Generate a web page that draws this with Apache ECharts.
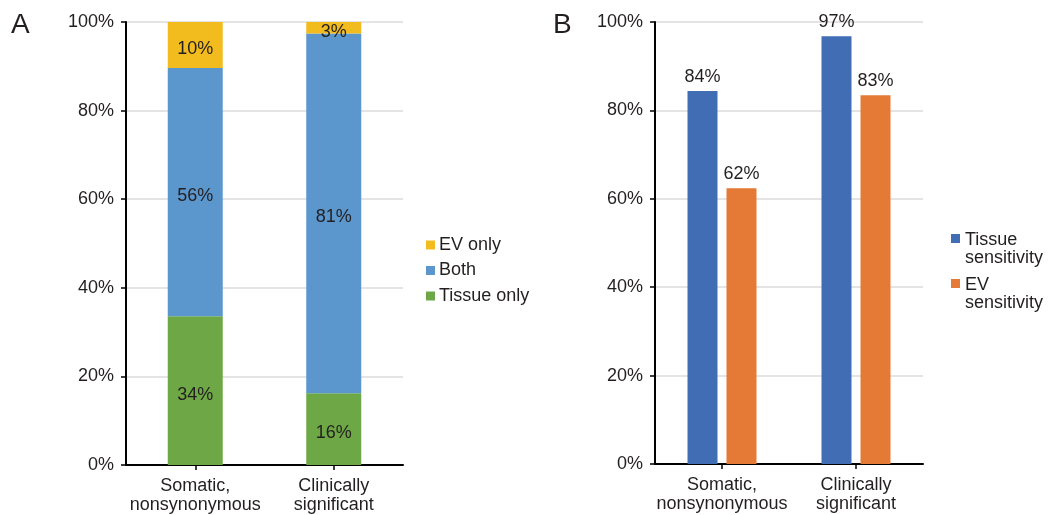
<!DOCTYPE html>
<html>
<head>
<meta charset="utf-8">
<script src="https://cdn.jsdelivr.net/npm/echarts@6/dist/echarts.min.js"></script>
<style>
html,body{margin:0;padding:0;background:#fff;}
#chart{width:1048px;height:515px;}
</style>
</head>
<body>
<div id="chart"></div>
<script>
// ---- data ----
const categories = ['Somatic,\nnonsynonymous', 'Clinically\nsignificant'];
const yTicks = [0, 20, 40, 60, 80, 100];
// Panel A (stacked, % of variants)
const tissueOnly = [33.6, 16.2];
const both = [56.0, 81.2];
const evOnly = [10.4, 2.6];
// Panel B (sensitivity, %)
const tissueSensitivity = [84.4, 96.8];
const evSensitivity = [62.4, 83.4];

const FONT = '"Liberation Sans", Arial, sans-serif';
const TXT = '#231f20';
const FS = 18;

const chart = echarts.init(document.getElementById('chart'), null, {renderer: 'canvas'});

function yAxis(idx) {
  return {
    type: 'value', gridIndex: idx, min: yTicks[0], max: yTicks[yTicks.length - 1], interval: 20,
    axisLine: {show: true, lineStyle: {color: '#000', width: 2}},
    axisTick: {show: true, length: 5, lineStyle: {color: '#000', width: 1.5}},
    axisLabel: {formatter: '{value}%', fontSize: FS, color: TXT, fontFamily: FONT, margin: 12},
    splitLine: {show: true, lineStyle: {color: '#e4e4e4', width: 2}}
  };
}
function xAxis(idx) {
  return {
    type: 'category', gridIndex: idx, data: categories,
    axisLine: {show: true, lineStyle: {color: '#000', width: 2}},
    axisTick: {show: true, alignWithLabel: true, length: 5, lineStyle: {color: '#000', width: 1.5}},
    axisLabel: {interval: 0, fontSize: FS, lineHeight: 19, color: TXT, fontFamily: FONT, margin: 12}
  };
}
const lblInside = {
  show: true, position: 'inside', offset: [0, 4], fontSize: FS, color: TXT, fontFamily: FONT,
  formatter: p => Math.round(p.value) + '%'
};
const lblTop = {
  show: true, position: 'top', distance: 5, fontSize: FS, color: TXT, fontFamily: FONT,
  formatter: p => Math.round(p.value) + '%'
};

const option = {
  backgroundColor: '#fff',
  animation: false,
  grid: [
    {left: 126, top: 22, width: 277, height: 444},
    {left: 655, top: 22, width: 268, height: 442}
  ],
  xAxis: [xAxis(0), xAxis(1)],
  yAxis: [yAxis(0), yAxis(1)],
  legend: [{
    data: ['EV only', 'Both', 'Tissue only'],
    orient: 'vertical', left: 421, top: 231,
    icon: 'rect', itemWidth: 9, itemHeight: 9, itemGap: 7.5,
    textStyle: {fontSize: FS, lineHeight: 18, color: TXT, fontFamily: FONT, padding: [0, 0, 0, -1]}
  }],
  graphic: [
    {type: 'text', left: 11, top: 11, style: {text: 'A', fontSize: 28, fill: TXT, fontFamily: FONT}},
    {type: 'text', left: 553, top: 11, style: {text: 'B', fontSize: 28, fill: TXT, fontFamily: FONT}},
    {type: 'rect', shape: {x: 951, y: 234, width: 9, height: 9}, style: {fill: '#406db4'}},
    {type: 'text', left: 965, top: 231, style: {text: 'Tissue\nsensitivity', fontSize: FS, lineHeight: 18, fill: TXT, fontFamily: FONT}},
    {type: 'rect', shape: {x: 951, y: 279, width: 9, height: 9}, style: {fill: '#e47a36'}},
    {type: 'text', left: 965, top: 276, style: {text: 'EV\nsensitivity', fontSize: FS, lineHeight: 18, fill: TXT, fontFamily: FONT}}
  ],
  series: [
    {name: 'Tissue only', type: 'bar', stack: 'a', xAxisIndex: 0, yAxisIndex: 0, barWidth: 55,
     data: tissueOnly, itemStyle: {color: '#6ea846'}, label: lblInside},
    {name: 'Both', type: 'bar', stack: 'a', xAxisIndex: 0, yAxisIndex: 0, barWidth: 55,
     data: both, itemStyle: {color: '#5b97cc'}, label: lblInside},
    {name: 'EV only', type: 'bar', stack: 'a', xAxisIndex: 0, yAxisIndex: 0, barWidth: 55,
     data: evOnly, itemStyle: {color: '#f3bc1e'}, label: lblInside},
    {name: 'Tissue sensitivity', type: 'bar', xAxisIndex: 1, yAxisIndex: 1, barWidth: 30, barGap: '30%',
     data: tissueSensitivity, itemStyle: {color: '#406db4'}, label: lblTop},
    {name: 'EV sensitivity', type: 'bar', xAxisIndex: 1, yAxisIndex: 1, barWidth: 30, barGap: '30%',
     data: evSensitivity, itemStyle: {color: '#e47a36'}, label: lblTop}
  ]
};
chart.setOption(option);
</script>
</body>
</html>
